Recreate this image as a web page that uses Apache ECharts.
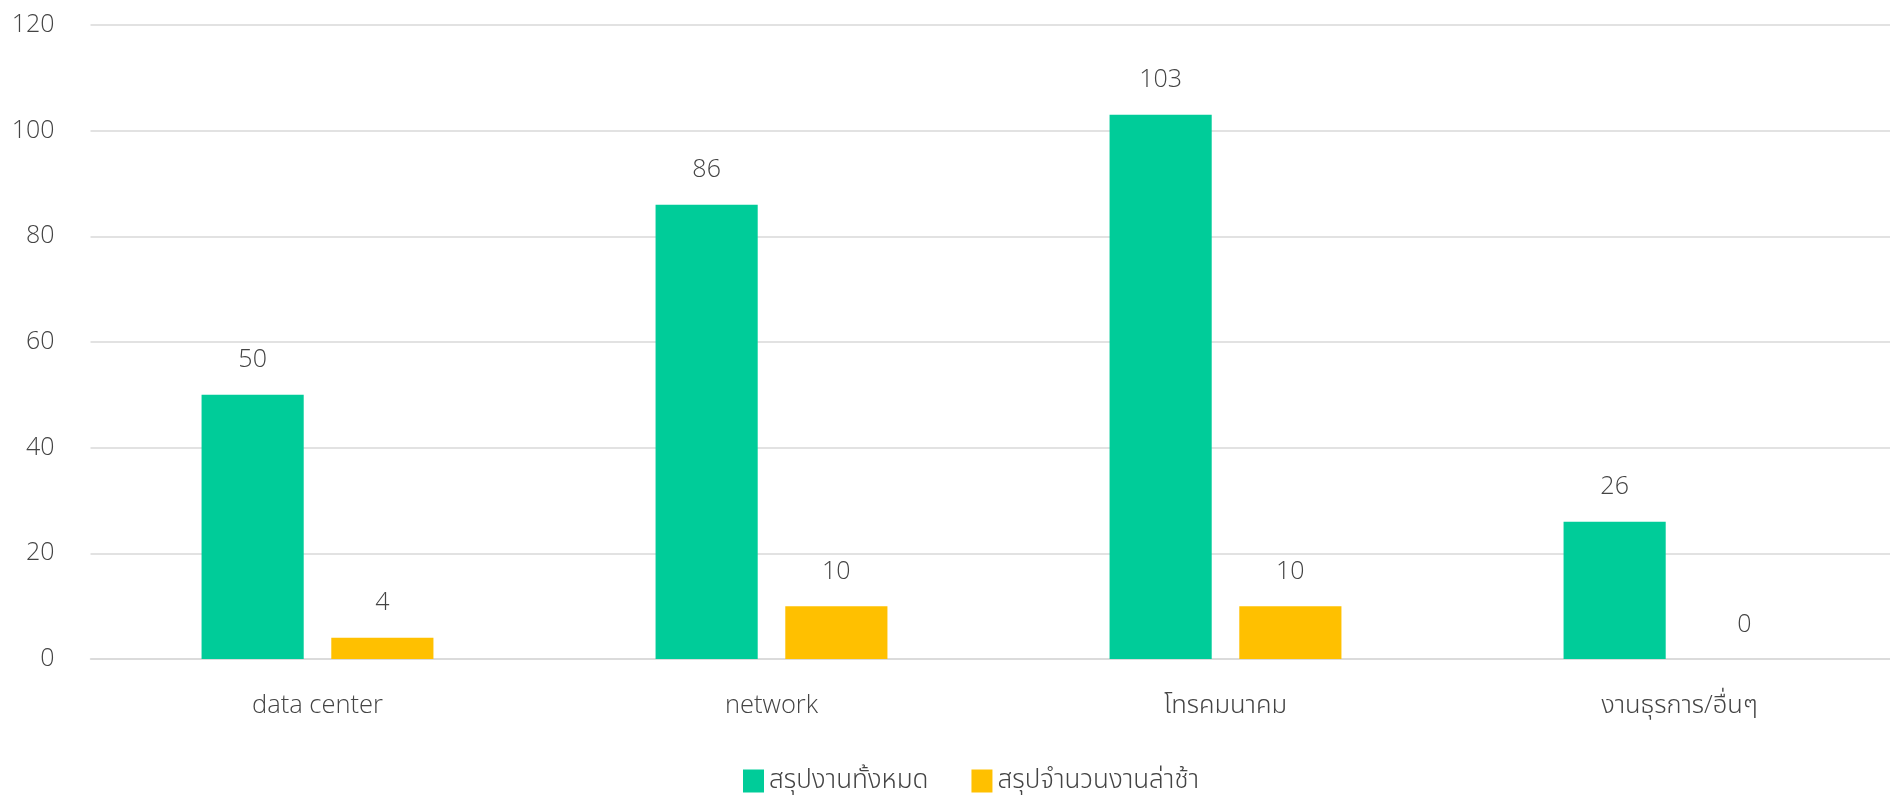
<!DOCTYPE html>
<html>
<head>
<meta charset="utf-8">
<script src="https://cdn.jsdelivr.net/npm/echarts@6/dist/echarts.min.js"></script>
<style>
html,body{margin:0;padding:0;background:#fff;}
#chart{width:1890px;height:795px;}
</style>
</head>
<body>
<div id="chart"></div>
<script>
const categories = ['data center', 'network', 'โทรคมนาคม', 'งานธุรการ/อื่นๆ'];
const seriesNames = ['สรุปงานทั้งหมด', 'สรุปจำนวนงานล่าช้า'];
const totalJobs = [50, 86, 103, 26];
const lateJobs = [4, 10, 10, 0];
const yTicks = { min: 0, max: 120, interval: 20 };

const FONT = "'Open Sans', 'Noto Sans', 'Noto Sans Thai', 'DejaVu Sans', sans-serif";
const TXT = '#444444';

const chart = echarts.init(document.getElementById('chart'));
const labelStyle = { show: true, position: 'top', distance: 22, color: TXT, fontSize: 25, fontFamily: FONT, fontWeight: 300 };
chart.setOption({
  animation: false,
  backgroundColor: '#fff',
  grid: { left: 90.5, right: -16.5, top: 25, bottom: 136, containLabel: false, outerBoundsMode: 'none' },
  legend: {
    left: 738, top: 763,
    itemWidth: 21, itemHeight: 23, itemGap: 43,
    icon: 'rect',
    textStyle: { color: TXT, fontSize: 26, fontFamily: FONT, fontWeight: 300 },
    data: seriesNames
  },
  xAxis: {
    type: 'category',
    data: categories,
    axisLine: { show: true, lineStyle: { color: '#D9D9D9', width: 1.5 } },
    axisTick: { show: false },
    axisLabel: { color: TXT, fontSize: 25.5, fontFamily: FONT, fontWeight: 300, margin: 34 }
  },
  yAxis: {
    type: 'value',
    min: yTicks.min, max: yTicks.max, interval: yTicks.interval,
    axisLine: { show: false },
    axisTick: { show: false },
    splitLine: { lineStyle: { color: '#D9D9D9', width: 1.5 } },
    axisLabel: { color: TXT, fontSize: 25, fontFamily: FONT, fontWeight: 300, margin: 36 }
  },
  series: [
    { name: seriesNames[0], type: 'bar', data: totalJobs, barWidth: '22.5%', barGap: '27%',
      itemStyle: { color: '#00CC99' }, label: labelStyle },
    { name: seriesNames[1], type: 'bar', data: lateJobs, barWidth: '22.5%',
      itemStyle: { color: '#FFC000' }, label: labelStyle }
  ]
});
</script>
</body>
</html>
